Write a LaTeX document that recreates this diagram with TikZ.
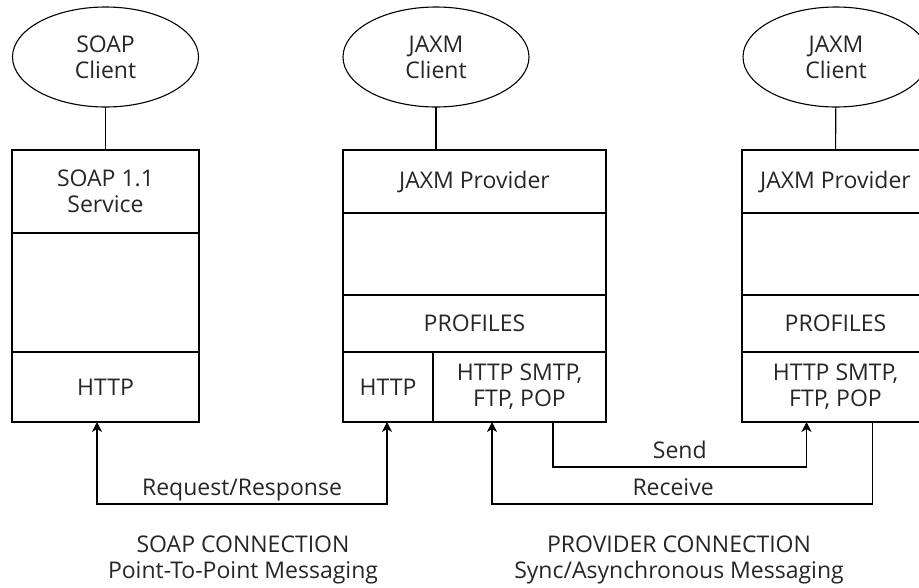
\documentclass[tikz,border=0pt]{standalone}
\usepackage{fontspec}
\setmainfont{Open Sans}
\usetikzlibrary{positioning,shapes.geometric,arrows.meta}

\newcommand{\labfont}{\fontsize{23}{26}\selectfont}

\begin{document}
\begin{tikzpicture}[x=1pt,y=-1pt,
  line width=1.1pt,
  node distance=0pt,
  client/.style={draw,ellipse,minimum width=186pt,minimum height=100pt,inner sep=0pt,outer sep=0pt,align=center,font=\labfont,text=black!85},
  cell/.style={draw,minimum width=187pt,inner sep=0pt,outer sep=0pt,align=center,font=\labfont,text=black!85},
  lbl/.style={font=\labfont,text=black!85,align=center,inner sep=2pt},
  conlbl/.style={lbl,text depth=6pt,above,pos=0.25},
  arr/.style={-{Stealth[length=10pt,width=10pt,inset=3pt]}},
  arrs/.style={{Stealth[length=10pt,width=10pt,inset=3pt]}-{Stealth[length=10pt,width=10pt,inset=3pt]}}]
\useasboundingbox (0,0) rectangle (919,587);
\clip (0,0) rectangle (919,587);
% SOAP side
\node[client] (sc) at (105.5,57) {SOAP\\Client};
\node[cell,minimum height=83pt,anchor=north] (ssvc) at (105.5,150) {SOAP 1.1\\Service};
\node[cell,minimum height=119pt,below=of ssvc] (smid) {};
\node[cell,minimum height=70pt,below=of smid] (shttp) {HTTP};
% JAXM provider (middle)
\node[client] (jc) at (436,57) {JAXM\\Client};
\node[cell,minimum width=263pt,minimum height=63pt,anchor=north] (jprov) at (474.5,150) {JAXM Provider};
\node[cell,minimum width=263pt,minimum height=82pt,below=of jprov] (jmid) {};
\node[cell,minimum width=263pt,minimum height=57pt,below=of jmid] (jprof) {PROFILES};
\node[cell,minimum width=90pt,minimum height=70pt,anchor=north west] (jhttp) at (jprof.south west) {HTTP};
\node[cell,minimum width=173pt,minimum height=70pt,anchor=north east] (jx) at (jprof.south east) {HTTP SMTP,\\FTP, POP};
% JAXM provider (right)
\node[client] (rc) at (836,57) {JAXM\\Client};
\node[cell,minimum height=63pt,anchor=north] (rprov) at (835.5,150) {JAXM Provider};
\node[cell,minimum height=82pt,below=of rprov] (rmid) {};
\node[cell,minimum height=57pt,below=of rmid] (rprof) {PROFILES};
\node[cell,minimum height=70pt,below=of rprof] (rx) {HTTP SMTP,\\FTP, POP};
% client links
\draw (sc) -- (ssvc);
\draw (jc.south) -- (jc.south |- jprov.north);
\draw (rc) -- (rprov);
% connections
\draw[arrs] ([xshift=-8.5pt]shttp.south) -- ++(0,82) -| ([xshift=-1pt]jhttp.south)
  node[conlbl] {Request/Response};
\draw[arr] ([xshift=33.5pt]jx.south) -- ++(0,45) -| ([xshift=-29pt]rx.south)
  node[conlbl] {Send};
\draw[arr] ([xshift=37pt]rx.south) -- ++(0,82) -| ([xshift=-27.5pt]jx.south)
  node[conlbl,pos=0.262] {Receive};
% captions
\node[lbl] (soapcap) at (243,560) {SOAP CONNECTION\\Point-To-Point Messaging};
\node[lbl] (provcap) at (679,560) {PROVIDER CONNECTION\\Sync/Asynchronous Messaging};
\end{tikzpicture}
\end{document}
